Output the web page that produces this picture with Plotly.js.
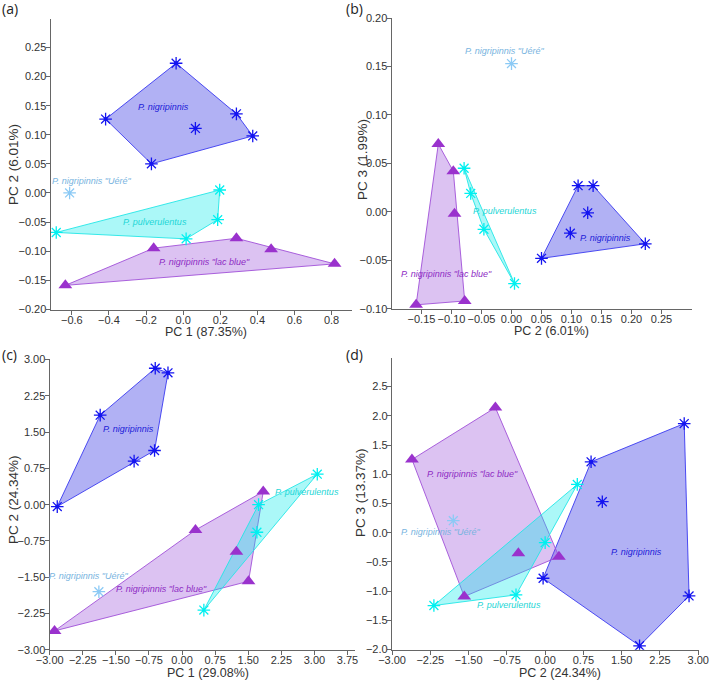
<!DOCTYPE html>
<html>
<head>
<meta charset="utf-8">
<script src="https://cdn.plot.ly/plotly-3.0.1.min.js"></script>
<style>
  html, body { margin: 0; padding: 0; background: #ffffff; }
  #chart { width: 709px; height: 680px; }
</style>
</head>
<body>
<div id="chart"></div>
<script>
// ---------- PCA 1 (panels a and b): scores on PC1, PC2, PC3 ----------
const nigri1_pc1 = [-0.171, 0.375, 0.066, -0.418, 0.287, -0.038];
const nigri1_pc2 = [0.050, 0.098, 0.111, 0.127, 0.136, 0.223];
const nigri1_pc3 = [-0.048, -0.022, 0.027, -0.001, 0.027, -0.033];

const pulv1_pc1 = [0.016, -0.684, 0.186, 0.197];
const pulv1_pc2 = [-0.079, -0.068, -0.046, 0.005];
const pulv1_pc3 = [0.045, 0.019, -0.018, -0.074];

const lac1_pc1 = [-0.635, 0.816, 0.474, -0.159, 0.287];
const lac1_pc2 = [-0.159, -0.122, -0.097, -0.095, -0.078];
const lac1_pc3 = [-0.096, 0.070, 0.042, -0.002, -0.092];

const uere1_pc1 = [-0.612];
const uere1_pc2 = [0.000];
const uere1_pc3 = [0.153];

// ---------- PCA 2 (panels c and d): scores on PC1, PC2, PC3 ----------
const nigri2_pc1 = [-2.829, -1.087, -0.624, -1.856, -0.319, -0.608];
const nigri2_pc2 = [-0.04, 0.90, 1.12, 1.85, 2.725, 2.82];
const nigri2_pc3 = [-0.780, 1.213, 0.530, -1.936, 1.868, -1.082];

const pulv2_pc1 = [3.065, 1.734, 1.696, 0.494];
const pulv2_pc2 = [0.63, 0.00, -0.571, -2.18];
const pulv2_pc3 = [0.826, -0.171, -1.065, -1.247];

const lac2_pc1 = [1.840, 0.304, 1.232, 1.506, -2.890];
const lac2_pc2 = [0.27, -0.525, -0.975, -1.585, -2.61];
const lac2_pc3 = [-0.410, -0.353, 2.141, -1.093, 1.253];

const uere2_pc1 = [-1.886];
const uere2_pc2 = [-1.80];
const uere2_pc3 = [0.205];

// ---------- axis titles and tick values ----------
const axisTitles = {
  a: ['PC 1 (87.35%)', 'PC 2 (6.01%)'],
  b: ['PC 2 (6.01%)', 'PC 3 (1.99%)'],
  c: ['PC 1 (29.08%)', 'PC 2 (24.34%)'],
  d: ['PC 2 (24.34%)', 'PC 3 (13.37%)']
};
const ticksAx = [-0.6, -0.4, -0.2, 0.0, 0.2, 0.4, 0.6, 0.8];
const ticksAy = [-0.20, -0.15, -0.10, -0.05, 0.00, 0.05, 0.10, 0.15, 0.20, 0.25];
const ticksBx = [-0.15, -0.10, -0.05, 0.00, 0.05, 0.10, 0.15, 0.20, 0.25];
const ticksBy = [-0.10, -0.05, 0.00, 0.05, 0.10, 0.15, 0.20];
const ticksCx = [-3.00, -2.25, -1.50, -0.75, 0.00, 0.75, 1.50, 2.25, 3.00, 3.75];
const ticksCy = [-3.00, -2.25, -1.50, -0.75, 0.00, 0.75, 1.50, 2.25, 3.00];
const ticksDx = [-3.00, -2.25, -1.50, -0.75, 0.00, 0.75, 1.50, 2.25, 3.00];
const ticksDy = [-2.0, -1.5, -1.0, -0.5, 0.0, 0.5, 1.0, 1.5, 2.0, 2.5];

// group names as drawn next to each cloud
const nameNigri = 'P. nigripinnis';
const namePulv = 'P. pulverulentus';
const nameLac = 'P. nigripinnis "lac blue"';
const nameUere = 'P. nigripinnis "Uéré"';

// ---------- styles ----------
const sty = {
  nigri: { mark: '#1414f0', line: '#3a3af0', fill: 'rgba(40,40,225,0.36)', text: '#2020d8' },
  pulv:  { mark: '#00f0f0', line: '#22e6e6', fill: 'rgba(0,235,235,0.33)', text: '#1ed6d6' },
  lac:   { mark: '#9a32cd', line: '#a050d8', fill: 'rgba(150,70,215,0.33)', text: '#8e2cc4' },
  uere:  { mark: '#8ccaf5', text: '#78b4e0' }
};

// convex hull (monotone chain), returned as a closed ring
function hull(xs, ys) {
  const pts = xs.map((x, i) => [x, ys[i]]).sort((p, q) => p[0] - q[0] || p[1] - q[1]);
  const cross = (o, a, b) => (a[0] - o[0]) * (b[1] - o[1]) - (a[1] - o[1]) * (b[0] - o[0]);
  const lower = [];
  for (const p of pts) {
    while (lower.length >= 2 && cross(lower[lower.length - 2], lower[lower.length - 1], p) <= 0) lower.pop();
    lower.push(p);
  }
  const upper = [];
  for (let i = pts.length - 1; i >= 0; i--) {
    const p = pts[i];
    while (upper.length >= 2 && cross(upper[upper.length - 2], upper[upper.length - 1], p) <= 0) upper.pop();
    upper.push(p);
  }
  upper.pop(); lower.pop();
  const ring = lower.concat(upper);
  ring.push(ring[0]);
  return { x: ring.map(p => p[0]), y: ring.map(p => p[1]) };
}

const traces = [];
function hullTrace(xs, ys, s, ax) {
  const h = hull(xs, ys);
  traces.push({
    type: 'scatter', mode: 'lines', x: h.x, y: h.y, xaxis: ax[0], yaxis: ax[1],
    fill: 'toself', fillcolor: s.fill, line: { color: s.line, width: 0.9 },
    hoverinfo: 'skip', showlegend: false
  });
}
function starTrace(xs, ys, s, ax, dot) {
  traces.push({
    type: 'scatter', mode: 'markers', x: xs, y: ys, xaxis: ax[0], yaxis: ax[1],
    marker: { symbol: 'asterisk-open', size: 10.5, color: s.mark, line: { color: s.mark, width: 1.3 } },
    hoverinfo: 'skip', showlegend: false
  });
  if (dot) {
    traces.push({
      type: 'scatter', mode: 'markers', x: xs, y: ys, xaxis: ax[0], yaxis: ax[1],
      marker: { symbol: 'circle', size: dot, color: s.mark },
      hoverinfo: 'skip', showlegend: false
    });
  }
}
function triTrace(xs, ys, s, ax) {
  traces.push({
    type: 'scatter', mode: 'markers', x: xs, y: ys, xaxis: ax[0], yaxis: ax[1],
    marker: { symbol: 'triangle-up', size: 12, color: s.mark, line: { width: 0 } },
    hoverinfo: 'skip', showlegend: false
  });
}

function panel(ax, d) {
  hullTrace(d.nig[0], d.nig[1], sty.nigri, ax);
  hullTrace(d.lac[0], d.lac[1], sty.lac, ax);
  hullTrace(d.pul[0], d.pul[1], sty.pulv, ax);
  triTrace(d.lac[0], d.lac[1], sty.lac, ax);
  starTrace(d.pul[0], d.pul[1], sty.pulv, ax, 0);
  starTrace(d.nig[0], d.nig[1], sty.nigri, ax, 4);
  starTrace(d.uer[0], d.uer[1], sty.uere, ax, 3);
}

panel(['x', 'y'], {
  nig: [nigri1_pc1, nigri1_pc2], pul: [pulv1_pc1, pulv1_pc2],
  lac: [lac1_pc1, lac1_pc2], uer: [uere1_pc1, uere1_pc2]
});
panel(['x2', 'y2'], {
  nig: [nigri1_pc2, nigri1_pc3], pul: [pulv1_pc2, pulv1_pc3],
  lac: [lac1_pc2, lac1_pc3], uer: [uere1_pc2, uere1_pc3]
});
panel(['x3', 'y3'], {
  nig: [nigri2_pc1, nigri2_pc2], pul: [pulv2_pc1, pulv2_pc2],
  lac: [lac2_pc1, lac2_pc2], uer: [uere2_pc1, uere2_pc2]
});
panel(['x4', 'y4'], {
  nig: [nigri2_pc2, nigri2_pc3], pul: [pulv2_pc2, pulv2_pc3],
  lac: [lac2_pc2, lac2_pc3], uer: [uere2_pc2, uere2_pc3]
});

// ---------- axes ----------
const W = 709, H = 680;
const px = v => v / W;
const py = v => 1 - v / H;
const FONT = 'Liberation Sans, Arial, sans-serif';

function axis(domain, range, vals, fmt, anchor, isX) {
  return {
    domain: domain, range: range, anchor: anchor,
    tickmode: 'array', tickvals: vals, ticktext: vals.map(v => (v < 0 ? '\u2212' : '') + Math.abs(v).toFixed(fmt)),
    showline: true, linecolor: '#666666', linewidth: 1,
    ticks: 'outside', ticklen: 4, tickwidth: 1, tickcolor: '#666666',
    ticklabelstandoff: isX ? -4 : -3,
    ticklabeloverflow: 'allow',
    showgrid: false, zeroline: false, fixedrange: true,
    tickfont: { family: FONT, size: 11, color: '#333333' }
  };
}

const layout = {
  width: W, height: H,
  margin: { l: 0, r: 0, t: 0, b: 0 },
  paper_bgcolor: '#ffffff', plot_bgcolor: '#ffffff',
  showlegend: false,
  xaxis:  axis([px(50.5), px(352)], [-0.715, 0.91], ticksAx, 1, 'y', true),
  yaxis:  axis([py(309.5), py(18.5)], [-0.2005, 0.3], ticksAy, 2, 'x', false),
  xaxis2: axis([px(391.5), px(691.5)], [-0.2, 0.3], ticksBx, 2, 'y2', true),
  yaxis2: axis([py(309.2), py(17.6)], [-0.1005, 0.2005], ticksBy, 2, 'x2', false),
  xaxis3: axis([px(49.5), px(355)], [-3.005, 3.92], ticksCx, 2, 'y3', true),
  yaxis3: axis([py(650), py(359.3)], [-3.005, 3.005], ticksCy, 2, 'x3', false),
  xaxis4: axis([px(391.8), px(698.5)], [-3.005, 3.005], ticksDx, 2, 'y4', true),
  yaxis4: axis([py(649.7), py(358)], [-2.003, 2.99], ticksDy, 1, 'x4', false),
  annotations: []
};

// panel letters
[['(a)', 0, 9], ['(b)', 344, 9], ['(c)', 0, 354], ['(d)', 344, 354]].forEach(([t, x, y]) => {
  layout.annotations.push({
    text: t, xref: 'paper', yref: 'paper', x: px(x), y: py(y), xanchor: 'left', yanchor: 'middle',
    showarrow: false, font: { family: 'Open Sans, sans-serif', size: 14, color: '#222222' }
  });
});

// axis titles
const titlePos = [
  ['a', 206, 332, 13, 165],
  ['b', 551, 331, 362, 160],
  ['c', 208, 673, 13, 500],
  ['d', 560, 673, 360, 493]
];
titlePos.forEach(([k, xx, xy, yx, yy]) => {
  layout.annotations.push({
    text: axisTitles[k][0], xref: 'paper', yref: 'paper', x: px(xx), y: py(xy),
    xanchor: 'center', yanchor: 'middle', showarrow: false,
    font: { family: FONT, size: 12.5, color: '#333333' }
  });
  layout.annotations.push({
    text: axisTitles[k][1], xref: 'paper', yref: 'paper', x: px(yx), y: py(yy),
    xanchor: 'center', yanchor: 'middle', textangle: -90, showarrow: false,
    font: { family: FONT, size: 13.5, color: '#333333' }
  });
});

// group labels placed in data coordinates of each panel
const groupLabels = [
  ['x', 'y', -0.108, 0.147, nameNigri, sty.nigri.text],
  ['x', 'y', -0.151, -0.050, namePulv, sty.pulv.text],
  ['x', 'y', 0.115, -0.118, nameLac, sty.lac.text],
  ['x', 'y', -0.49, 0.020, nameUere, sty.uere.text],
  ['x2', 'y2', -0.011, 0.166, nameUere, sty.uere.text],
  ['x2', 'y2', -0.108, -0.064, nameLac, sty.lac.text],
  ['x2', 'y2', -0.011, 0.001, namePulv, sty.pulv.text],
  ['x2', 'y2', 0.156, -0.0274, nameNigri, sty.nigri.text],
  ['x3', 'y3', -1.217, 1.562, nameNigri, sty.nigri.text],
  ['x3', 'y3', 2.837, 0.255, namePulv, sty.pulv.text],
  ['x3', 'y3', -0.456, -1.734, nameLac, sty.lac.text],
  ['x3', 'y3', -2.11, -1.473, nameUere, sty.uere.text],
  ['x4', 'y4', -1.433, 1.002, nameLac, sty.lac.text],
  ['x4', 'y4', -0.713, -1.236, namePulv, sty.pulv.text],
  ['x4', 'y4', 1.783, -0.336, nameNigri, sty.nigri.text],
  ['x4', 'y4', -2.049, 0.006, nameUere, sty.uere.text]
];
groupLabels.forEach(([xr, yr, x, y, t, c]) => {
  layout.annotations.push({
    text: t, xref: xr, yref: yr, x: x, y: y, xanchor: 'center', yanchor: 'middle',
    showarrow: false, font: { family: FONT, size: 9, color: c, style: 'italic' }
  });
});

Plotly.newPlot('chart', traces, layout, { staticPlot: true, displayModeBar: false });
</script>
</body>
</html>
